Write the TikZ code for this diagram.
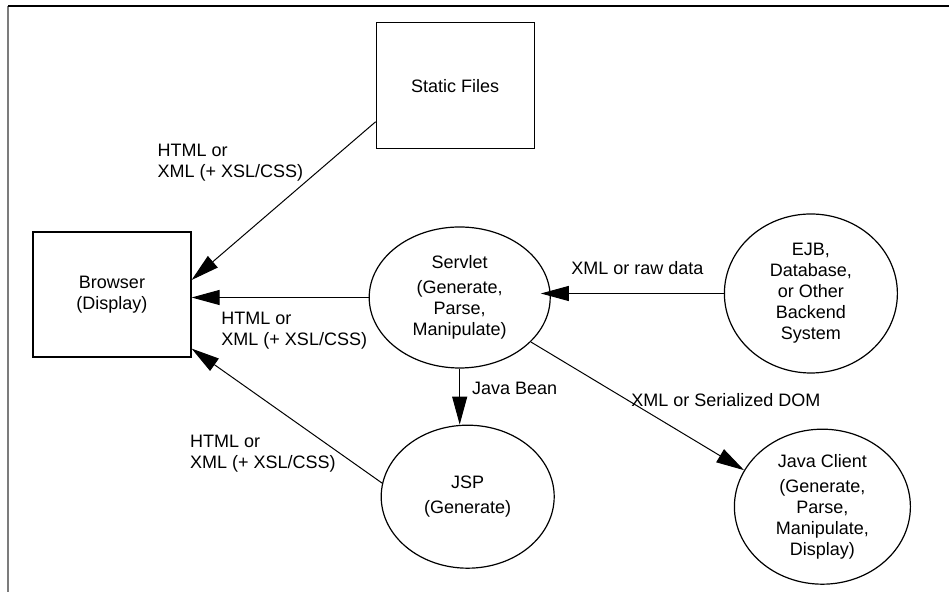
\documentclass[tikz,border=0pt]{standalone}
\usepackage{fontspec}
\setmainfont{Liberation Sans}
\usepackage{tikz}
\usetikzlibrary{arrows.meta,positioning,shapes.geometric}
\definecolor{framegrey}{HTML}{7C7C7C}

\begin{document}
\begin{tikzpicture}[
  font=\fontsize{9}{10.5}\selectfont,
  box/.style={draw,align=center,line width=0.6pt,
              minimum width=79pt,minimum height=62.5pt},
  oval/.style={draw,ellipse,align=center,inner sep=0pt,line width=0.6pt,
               minimum width=86.5pt,minimum height=71.5pt},
  lbl/.style={align=left,inner sep=2pt},
  ar/.style={-{Triangle[length=14pt,width=7.5pt]},line width=0.5pt}
]
\useasboundingbox (-56pt,-148.75pt) rectangle (418.5pt,147.25pt);
\draw[framegrey,line width=1pt] (-51.75pt,-148.75pt) -- (-51.75pt,144.25pt);
\draw[line width=0.6pt] (-51.75pt,144.25pt) -- (418.5pt,144.25pt);

\node[box] (browser) at (0,0) {Browser\\(Display)};
\node[oval,minimum width=90.5pt,minimum height=70.5pt,
      right=88.5pt of browser,yshift=-1.5pt] (servlet)
      {Servlet\\[2pt](Generate,\\Parse,\\Manipulate)};
\node[box,minimum height=63pt,above=38.5pt of servlet,xshift=-2.25pt] (static) {Static Files};
\node[oval,minimum height=79.5pt,right=86.5pt of servlet,yshift=2pt] (ejb)
      {EJB,\\Database,\\or Other\\Backend\\System};
\node[oval,below=28pt of servlet,xshift=4pt] (jsp) {JSP\\[2pt](Generate)};
\node[oval,minimum width=88pt,minimum height=77.5pt,
      right=89.5pt of jsp,yshift=-5pt] (jc)
      {Java Client\\[2pt](Generate,\\Parse,\\Manipulate,\\Display)};

\draw[ar] ([yshift=-18pt]static.west) -- node[lbl,pos=0.26,left=10pt] (lbltop)
      {HTML or\\XML (+ XSL/CSS)} ([yshift=7.25pt]browser.east);
\draw[ar] (servlet.west) -- node[lbl,pos=0.42,below=5pt] (lblmid)
      {HTML or\\XML (+ XSL/CSS)} (servlet.west -| browser.east);
\draw[ar] (jsp.171) -- node[lbl,pos=0.22,left=0pt] (lblbot)
      {HTML or\\XML (+ XSL/CSS)} ([yshift=4.5pt]browser.south east);
\draw[ar,shorten >=-5pt] (ejb.west) -- node[lbl,pos=0.5,above=7pt] (lblraw)
      {XML or raw data} (ejb.west -| servlet.east);
\draw[ar] (servlet.south) -- node[lbl,pos=0.35,right=4pt] (lblbean)
      {Java Bean} (servlet.south |- jsp.north);
\draw[ar] (servlet.-32) -- node[lbl,pos=0.45,anchor=west] (lbldom)
      {XML or Serialized DOM} (jc.155);
\end{tikzpicture}
\end{document}
